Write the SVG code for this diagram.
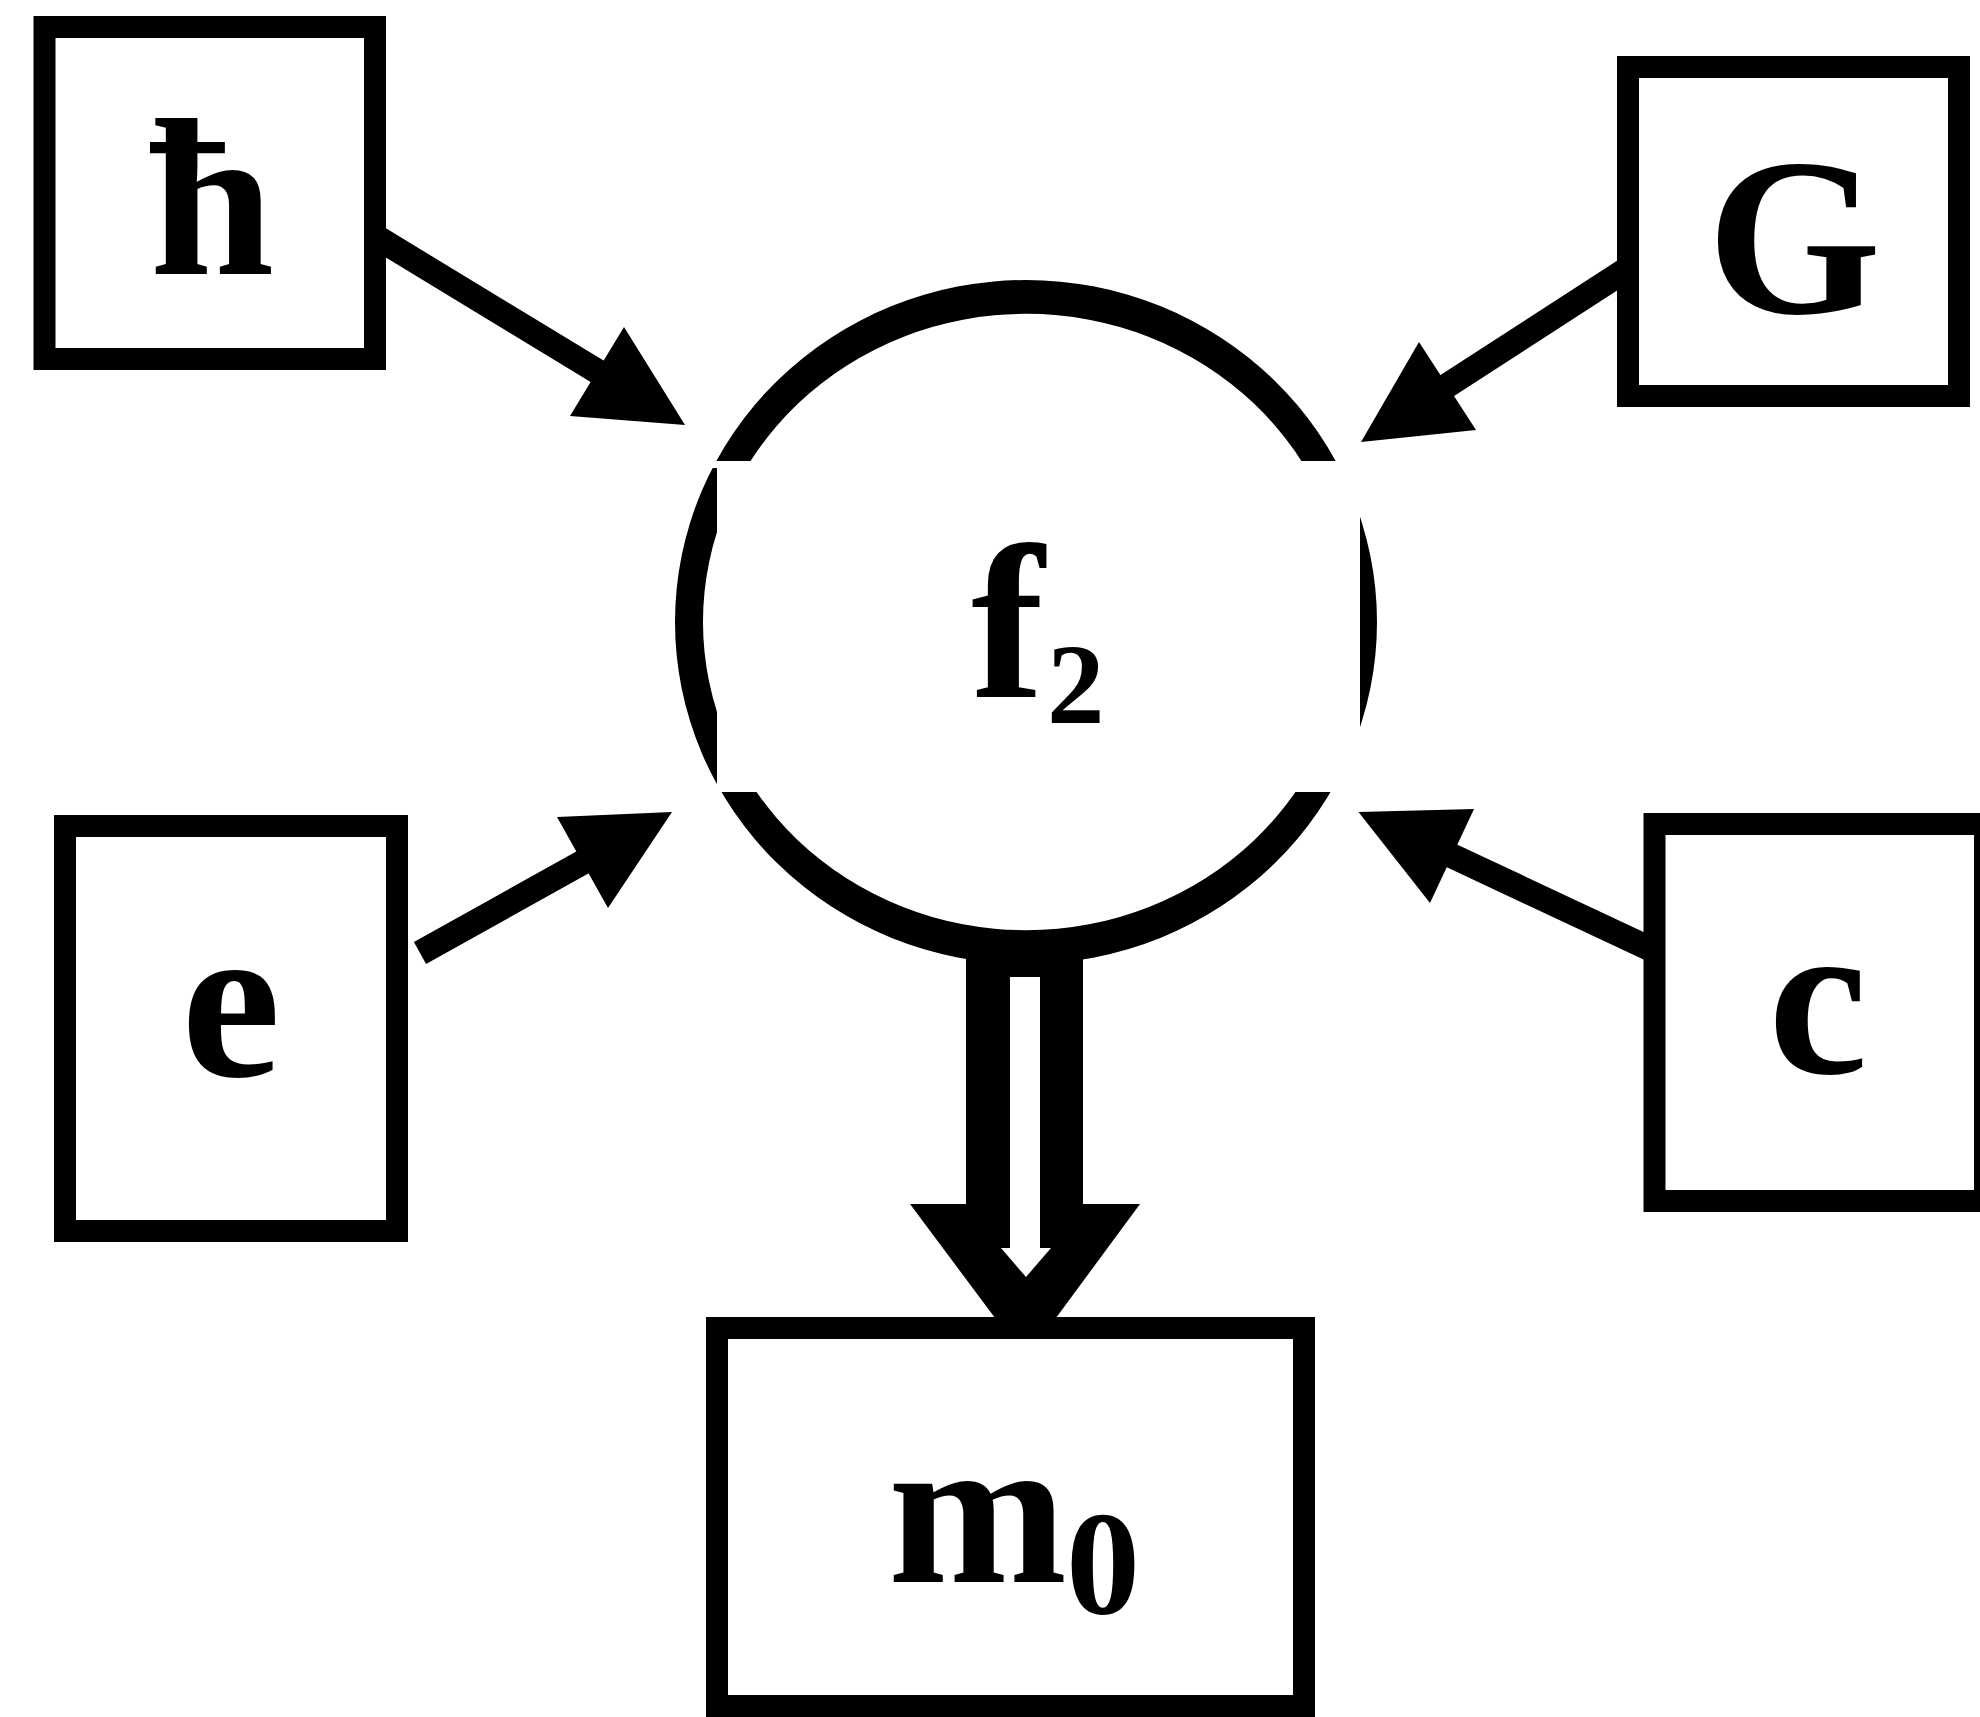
<svg xmlns="http://www.w3.org/2000/svg" width="1980" height="1717" viewBox="0 0 1980 1717">
  <style>
    .box { fill: #ffffff; stroke: #000000; stroke-width: 22; }
    .line { stroke: #000000; stroke-width: 25; fill: none; }
    .head { fill: #000000; }
  </style>
  <defs>
    <clipPath id="ringClip">
      <path clip-rule="evenodd" d="M0 0H1980V1717H0Z M705 461H1360V792H705V785H717V468H705Z"/>
    </clipPath>
  </defs>
  <rect x="0" y="0" width="1980" height="1717" fill="#ffffff"/>

  <g id="node-hbar">
    <rect class="box" x="44.5" y="27" width="330.5" height="332"/>
    <text font-family="Liberation Serif, Times New Roman, Times, serif" font-weight="bold" font-size="224" x="212" y="274" text-anchor="middle">ħ</text>
  </g>

  <g id="node-G">
    <rect class="box" x="1628" y="67" width="331" height="329"/>
    <text font-family="Liberation Serif, Times New Roman, Times, serif" font-weight="bold" font-size="224" x="1794" y="313" text-anchor="middle">G</text>
  </g>

  <g id="node-e">
    <rect class="box" x="65" y="826" width="332" height="405"/>
    <text font-family="Liberation Serif, Times New Roman, Times, serif" font-weight="bold" font-size="224" x="231" y="1076" text-anchor="middle">e</text>
  </g>

  <g id="node-c">
    <rect class="box" x="1654.5" y="824" width="330.5" height="377"/>
    <text font-family="Liberation Serif, Times New Roman, Times, serif" font-weight="bold" font-size="224" x="1818" y="1073" text-anchor="middle">c</text>
  </g>

  <g id="node-m0">
    <rect class="box" x="717" y="1328" width="587" height="378"/>
    <text font-family="Liberation Serif, Times New Roman, Times, serif" font-weight="bold"><tspan x="888" y="1582" font-size="215">m</tspan><tspan x="1066" y="1614" font-size="148">0</tspan></text>
  </g>

  <g id="node-f2">
    <path fill="#000000" fill-rule="evenodd" clip-path="url(#ringClip)" d="M675 622a351 342 0 1 0 702 0a351 342 0 1 0 -702 0Z M703 622a323 308 0 1 0 646 0a323 308 0 1 0 -646 0Z"/>
    <text font-family="Liberation Serif, Times New Roman, Times, serif" font-weight="bold"><tspan x="971" y="697" font-size="220">f</tspan><tspan x="1047" y="723" font-size="115">2</tspan></text>
  </g>

  <g id="connectors">
    <!-- hbar -> f2 -->
    <line class="line" x1="377" y1="237.5" x2="600" y2="373"/>
    <polygon class="head" points="624,327 685,425 570,416"/>
    <!-- G -> f2 -->
    <line class="line" x1="1625" y1="270.5" x2="1445" y2="387"/>
    <polygon class="head" points="1419,342 1361,442 1476,430"/>
    <!-- e -> f2 -->
    <line class="line" x1="420" y1="953" x2="585" y2="861"/>
    <polygon class="head" points="557,817 672,812 608,908"/>
    <!-- c -> f2 -->
    <line class="line" x1="1651" y1="949.3" x2="1449" y2="854.5"/>
    <polygon class="head" points="1474,809 1358.5,812 1430,903"/>
    <!-- f2 => m0 (hollow arrow) -->
    <polygon class="head" points="966,945 1083,945 1083,1204 1140,1204 1053,1322 998,1322 910,1204 966,1204"/>
    <polygon fill="#ffffff" points="1010,977 1040,977 1040,1248 1051,1248 1026,1277 1001,1248 1010,1248"/>
  </g>
</svg>
